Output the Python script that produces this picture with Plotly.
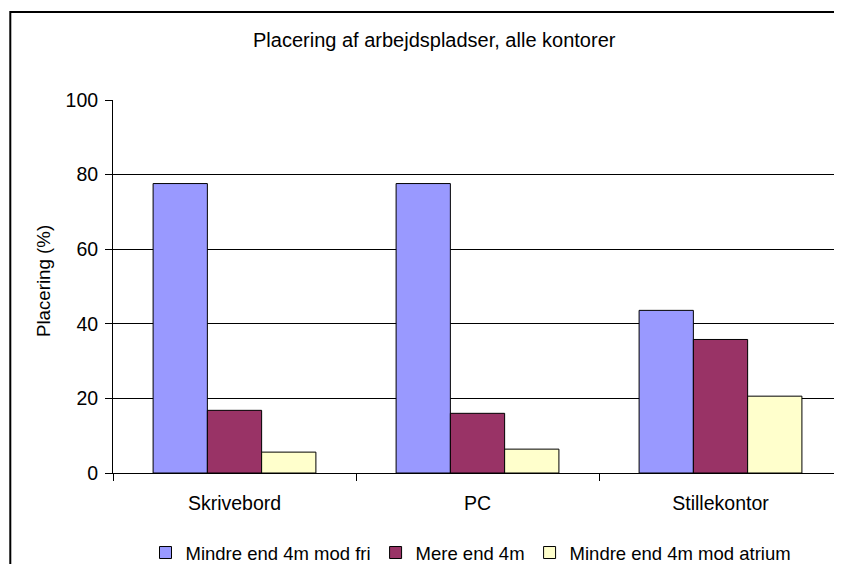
import plotly.graph_objects as go

categories = ["Skrivebord", "PC", "Stillekontor"]
series_names = ["Mindre end 4m mod fri", "Mere end 4m", "Mindre end 4m mod atrium"]
mindre_fri = [77.6, 77.6, 43.6]
mere_4m = [16.8, 16.0, 35.8]
mindre_atrium = [5.6, 6.4, 20.6]
series_values = [mindre_fri, mere_4m, mindre_atrium]
colors = ["#9999FF", "#993366", "#FFFFCC"]
y_ticks = [0, 20, 40, 60, 80, 100]

FONT = "Liberation Sans, Arial, sans-serif"

# page has an 8px body margin; figure drawn from (8,8) to the window edge
OFF = 8
W, H = 842 - OFF, 564 - OFF
PL, PR, PT, PB = 113, 842, 100, 473   # plot area in page pixels
L, R, T, B = PL - OFF, OFF + W - PR, PT - OFF, OFF + H - PB
pw, ph = PR - PL, PB - PT

def px_x(x):
    return (x - PL) / pw

def px_y(y):
    return (PB - y) / ph

fig = go.Figure()
for name, vals, col in zip(series_names, series_values, colors):
    fig.add_trace(go.Bar(
        x=categories, y=vals, name=name,
        marker=dict(color=col, line=dict(color="black", width=1)),
    ))

fig.update_layout(
    width=W, height=H, autosize=False,
    margin=dict(l=L, r=R, t=T, b=B, pad=0, autoexpand=False),
    paper_bgcolor="white", plot_bgcolor="white",
    barmode="group", bargap=0.33, bargroupgap=0,
    font=dict(family=FONT, size=19, color="black"),
    showlegend=True,
    legend=dict(orientation="h", x=px_x(471), xanchor="center",
                y=px_y(553), yanchor="middle",
                font=dict(size=18.5), itemwidth=30,
                bgcolor="rgba(0,0,0,0)"),
    xaxis=dict(showline=True, linecolor="black", linewidth=1,
               ticks="outside", ticklen=7, tickcolor="black",
               tickson="boundaries", showgrid=False,
               ticklabelstandoff=13,
               tickfont=dict(size=19.5)),
    yaxis=dict(range=[0, 100], tickvals=y_ticks, showline=True,
               linecolor="black", linewidth=1, ticks="outside",
               ticklen=7, tickcolor="black", showgrid=True,
               gridcolor="black", gridwidth=1, zeroline=False,
               ticklabelstandoff=3,
               tickfont=dict(size=19.5)),
    annotations=[
        dict(text="Placering af arbejdspladser, alle kontorer",
             xref="paper", yref="paper", x=px_x(434), y=px_y(40),
             xanchor="center", yanchor="middle", showarrow=False,
             font=dict(size=20)),
        dict(text="Placering (%)", xref="paper", yref="paper",
             x=px_x(43), y=px_y(281), xanchor="center", yanchor="middle",
             textangle=-90, showarrow=False, font=dict(size=18.7)),
    ],
    shapes=[
        dict(type="rect", xref="paper", yref="paper",
             x0=px_x(10.3), x1=px_x(900), y0=px_y(620), y1=px_y(12),
             line=dict(color="black", width=2), fillcolor="rgba(0,0,0,0)",
             layer="below"),
    ],
)

fig.write_html("out.html")
